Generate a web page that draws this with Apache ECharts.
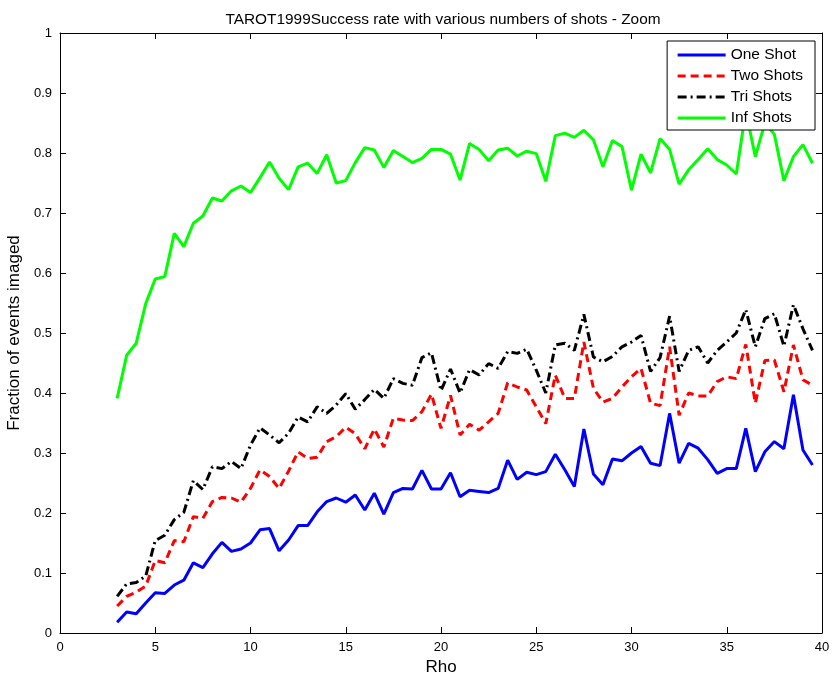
<!DOCTYPE html>
<html>
<head>
<meta charset="utf-8">
<script src="https://cdn.jsdelivr.net/npm/echarts@6/dist/echarts.min.js"></script>
<style>
html,body{margin:0;padding:0;background:#fff;}
#chart{width:832px;height:679px;}
</style>
</head>
<body>
<div id="chart"></div>
<script>
const rho = [3,3.5,4,4.5,5,5.5,6,6.5,7,7.5,8,8.5,9,9.5,10,10.5,11,11.5,12,12.5,13,13.5,14,14.5,15,15.5,16,16.5,17,17.5,18,18.5,19,19.5,20,20.5,21,21.5,22,22.5,23,23.5,24,24.5,25,25.5,26,26.5,27,27.5,28,28.5,29,29.5,30,30.5,31,31.5,32,32.5,33,33.5,34,34.5,35,35.5,36,36.5,37,37.5,38,38.5,39,39.5];

const oneShot = [0.018,0.035,0.032,0.050,0.067,0.066,0.080,0.088,0.117,0.109,0.132,0.151,0.136,0.140,0.150,0.172,0.174,0.137,0.155,0.179,0.179,0.202,0.219,0.225,0.218,0.230,0.205,0.233,0.198,0.234,0.241,0.240,0.271,0.240,0.240,0.267,0.227,0.238,0.236,0.234,0.241,0.288,0.256,0.268,0.264,0.269,0.298,0.272,0.244,0.340,0.265,0.247,0.290,0.287,0.300,0.311,0.283,0.279,0.366,0.283,0.316,0.308,0.289,0.266,0.274,0.274,0.341,0.269,0.302,0.319,0.307,0.397,0.305,0.280];

const twoShots = [0.045,0.061,0.068,0.078,0.121,0.117,0.154,0.152,0.194,0.191,0.219,0.226,0.225,0.218,0.241,0.272,0.261,0.241,0.270,0.302,0.291,0.293,0.319,0.327,0.343,0.332,0.307,0.340,0.310,0.358,0.355,0.354,0.369,0.398,0.341,0.396,0.330,0.348,0.338,0.352,0.366,0.417,0.410,0.405,0.377,0.349,0.430,0.391,0.391,0.485,0.408,0.385,0.391,0.410,0.427,0.441,0.383,0.379,0.477,0.363,0.400,0.395,0.395,0.419,0.427,0.424,0.481,0.383,0.454,0.455,0.402,0.480,0.422,0.413];

const triShots = [0.061,0.082,0.084,0.095,0.154,0.163,0.189,0.201,0.254,0.239,0.277,0.274,0.286,0.274,0.313,0.342,0.330,0.317,0.333,0.360,0.352,0.377,0.366,0.380,0.399,0.373,0.389,0.406,0.391,0.424,0.416,0.413,0.459,0.467,0.404,0.440,0.400,0.439,0.430,0.449,0.441,0.469,0.466,0.473,0.438,0.400,0.480,0.483,0.471,0.531,0.460,0.452,0.461,0.477,0.485,0.496,0.436,0.459,0.528,0.436,0.471,0.477,0.450,0.471,0.485,0.500,0.539,0.477,0.524,0.532,0.478,0.547,0.507,0.471];

const infShots = [0.391,0.463,0.483,0.549,0.590,0.594,0.666,0.644,0.683,0.695,0.725,0.720,0.737,0.745,0.734,0.759,0.785,0.758,0.739,0.777,0.783,0.766,0.797,0.750,0.754,0.784,0.809,0.805,0.776,0.804,0.794,0.784,0.791,0.806,0.806,0.798,0.755,0.816,0.806,0.787,0.805,0.808,0.795,0.803,0.799,0.753,0.829,0.833,0.826,0.838,0.822,0.777,0.821,0.811,0.738,0.798,0.767,0.824,0.806,0.748,0.772,0.789,0.807,0.789,0.780,0.765,0.870,0.794,0.850,0.831,0.754,0.794,0.814,0.783];

const seriesNames = ['One Shot','Two Shots','Tri Shots','Inf Shots'];
const titleText = 'TAROT1999Success rate with various numbers of shots - Zoom';
const xLabel = 'Rho';
const yLabel = 'Fraction of events imaged';

const FONT = '"Liberation Sans", Arial, Helvetica, sans-serif';
const pairs = v => rho.map((x,i)=>[x, v[i]]);

const chart = echarts.init(document.getElementById('chart'), null, {renderer:'canvas'});

const axisCommon = {
  axisLine:{show:true, onZero:false, lineStyle:{color:'#000', width:1}},
  axisTick:{show:true, inside:true, length:6, lineStyle:{color:'#000', width:1}},
  splitLine:{show:false}
};

chart.setOption({
  animation:false,
  backgroundColor:'#fff',
  title:{
    text:titleText, left:438, top:7, textAlign:'center',
    textStyle:{fontFamily:FONT, fontSize:15.4, fontWeight:'normal', color:'#000'}
  },
  grid:{left:60, right:10, top:33, bottom:46, containLabel:false, outerBoundsMode:'none'},
  legend:{
    data:seriesNames, orient:'vertical', right:17, top:41,
    backgroundColor:'#fff', borderColor:'#000', borderWidth:1,
    padding:[6,12,4,9], itemWidth:48, itemHeight:14, itemGap:5,
    itemStyle:{opacity:0},
    lineStyle:{width:3},
    textStyle:{fontFamily:FONT, fontSize:15.5, color:'#000'}
  },
  xAxis:[
    Object.assign({type:'value', min:0, max:40, interval:5, position:'bottom',
      name:xLabel, nameLocation:'middle', nameGap:20,
      nameTextStyle:{fontFamily:FONT, fontSize:17, color:'#000'},
      axisLabel:{fontFamily:FONT, fontSize:13, color:'#000', margin:8}}, axisCommon),
    Object.assign({type:'value', min:0, max:40, interval:5, position:'top',
      axisLabel:{show:false}}, axisCommon)
  ],
  yAxis:[
    Object.assign({type:'value', min:0, max:1, interval:0.1, position:'left',
      name:yLabel, nameLocation:'middle', nameGap:32,
      nameTextStyle:{fontFamily:FONT, fontSize:17, color:'#000'},
      axisLabel:{fontFamily:FONT, fontSize:13, color:'#000', margin:8}}, axisCommon),
    Object.assign({type:'value', min:0, max:1, interval:0.1, position:'right',
      axisLabel:{show:false}}, axisCommon)
  ],
  series:[
    {name:seriesNames[0], type:'line', data:pairs(oneShot), showSymbol:false, symbol:'none',
      color:'#0000ff', lineStyle:{color:'#0000ff', width:3}},
    {name:seriesNames[1], type:'line', data:pairs(twoShots), showSymbol:false, symbol:'none',
      color:'#ff0000', lineStyle:{color:'#ff0000', width:3, type:[8,5]}},
    {name:seriesNames[2], type:'line', data:pairs(triShots), showSymbol:false, symbol:'none',
      color:'#000000', lineStyle:{color:'#000000', width:3, type:[9,4,2,4]}},
    {name:seriesNames[3], type:'line', data:pairs(infShots), showSymbol:false, symbol:'none',
      color:'#00ff00', lineStyle:{color:'#00ff00', width:3}}
  ]
});
</script>
</body>
</html>
